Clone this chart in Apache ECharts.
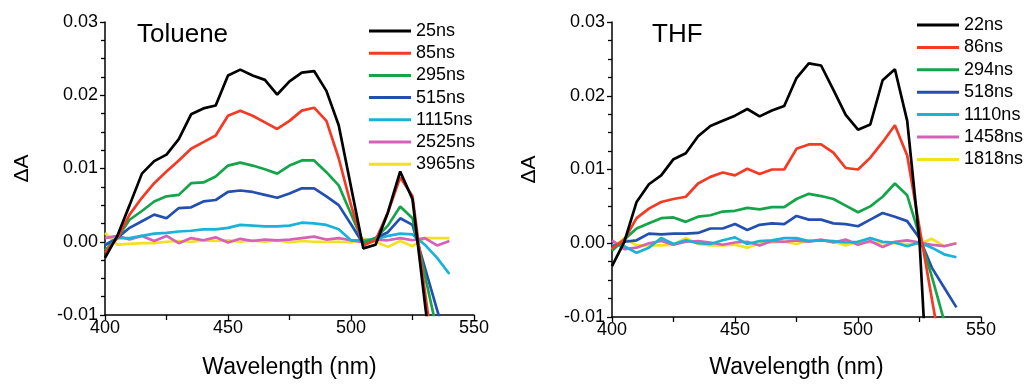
<!DOCTYPE html>
<html>
<head>
<meta charset="utf-8">
<script src="https://cdn.jsdelivr.net/npm/echarts@6/dist/echarts.min.js"></script>
<style>
html,body{margin:0;padding:0;background:#fff;}
#chart{width:1026px;height:384px;}
</style>
</head>
<body>
<div id="chart"></div>
<script>
// ---------- data ----------
const wavelengths = [400,405,410,415,420,425,430,435,440,445,450,455,460,465,470,475,480,485,490,495,500,505,510,515,520,525,530,535,540];

const toluenePanelTitle = 'Toluene';
const thfPanelTitle = 'THF';
const tolueneNames = ['25ns','85ns','295ns','515ns','1115ns','2525ns','3965ns'];
const thfNames = ['22ns','86ns','294ns','518ns','1110ns','1458ns','1818ns'];

const tol25 = [-0.0022,0.0008,0.005,0.0093,0.011,0.0119,0.014,0.0174,0.0182,0.0186,0.0227,0.0235,0.0227,0.0221,0.0201,0.0219,0.0231,0.0233,0.0206,0.0159,0.0075,-0.0009,-0.0004,0.004,0.0096,0.0058,-0.0083,-0.022,-0.036];
const tol85 = [-0.0015,0.0005,0.0037,0.006,0.008,0.0096,0.0111,0.0127,0.0136,0.0145,0.0172,0.0179,0.0172,0.0163,0.0154,0.0165,0.0179,0.0183,0.0165,0.0114,0.005,-0.0005,0.0002,0.004,0.0088,0.0062,-0.0067,-0.019,-0.03];
const tol295 = [-0.0012,0.0005,0.003,0.0042,0.0055,0.0062,0.0064,0.008,0.0081,0.0089,0.0104,0.0108,0.0104,0.0099,0.0093,0.0104,0.0111,0.0111,0.0095,0.0077,0.0038,-0.0001,0.0005,0.0022,0.0048,0.0032,-0.0045,-0.0122,-0.02];
const tol515 = [-0.0005,0.0005,0.0019,0.0028,0.0037,0.0032,0.0046,0.0047,0.0055,0.0057,0.0068,0.007,0.0068,0.0064,0.006,0.0066,0.0073,0.0073,0.0062,0.005,0.0024,-0.0003,0.0005,0.0013,0.0032,0.0023,-0.0035,-0.0093,-0.015];
const tol1115 = [-0.0004,0.0005,0.0005,0.0008,0.0011,0.0012,0.0014,0.0015,0.0017,0.0017,0.0019,0.0023,0.0022,0.0021,0.0021,0.0022,0.0026,0.0025,0.0023,0.0017,0.0002,0.0002,0.0004,0.0008,0.0011,0.001,-0.0004,-0.0022,-0.0044];
const tol2525 = [0.0005,0.0008,0.0003,0.0008,0.0001,0.0008,-0.0002,0.0005,0.0002,0.0006,-0.0001,0.0004,0.0001,0.0003,0.0002,0.0003,0.0005,0.0007,0.0003,0.0005,0.0002,-0.0001,0.0003,0.0002,0.0005,0.0002,0.0005,-0.0005,0.0001];
const tol3965 = [0.0012,-0.0004,-0.0003,-0.0002,-0.0002,0.0,0.0001,0.0,0.0002,0.0001,0.0002,0.0,0.0002,0.0,0.0002,-0.0001,0.0001,0.0,0.0,0.0,-0.0001,0.0004,0.0,-0.0007,0.0001,-0.0006,0.0005,0.0005,0.0005];

const thf22 = [-0.0031,0.0002,0.0056,0.008,0.0092,0.0114,0.0122,0.0145,0.0159,0.0166,0.0173,0.0182,0.0172,0.018,0.0186,0.0224,0.0244,0.0241,0.0208,0.0174,0.0154,0.0161,0.0221,0.0236,0.0166,0.0003,-0.03,-0.05,-0.06];
const thf86 = [-0.0007,0.0005,0.0034,0.0047,0.0056,0.006,0.0063,0.0081,0.009,0.0096,0.0092,0.0101,0.0094,0.01,0.01,0.0128,0.0134,0.0134,0.0123,0.0102,0.01,0.0116,0.0137,0.016,0.0119,0.0021,-0.0075,-0.017,-0.027];
const thf294 = [-0.001,0.0005,0.002,0.0027,0.0034,0.0035,0.0029,0.0036,0.0038,0.0043,0.0044,0.0048,0.0046,0.0049,0.0049,0.006,0.0067,0.0064,0.006,0.0051,0.0042,0.005,0.0063,0.0081,0.0065,0.001,-0.0045,-0.0105,-0.016];
const thf518 = [-0.0005,0.0002,0.0004,0.0013,0.0012,0.0013,0.0013,0.0014,0.002,0.002,0.0026,0.0018,0.0025,0.0027,0.0026,0.0037,0.0032,0.0032,0.0027,0.0026,0.0023,0.0032,0.0041,0.0036,0.003,0.0007,-0.0033,-0.006,-0.0087];
const thf1110 = [-0.0002,-0.0004,-0.0013,-0.0006,0.0007,-0.0001,0.0004,0.0,-0.0001,0.0004,0.0008,-0.0001,0.0003,0.0004,0.0007,0.0007,0.0003,0.0004,0.0003,0.0001,0.0002,0.0007,0.0002,0.0001,-0.0004,0.0001,-0.0006,-0.0015,-0.0019];
const thf1458 = [0.0004,-0.0008,-0.0006,0.0,0.0003,-0.0002,0.0002,0.0003,0.0001,-0.0002,0.0001,0.0002,-0.0003,0.0003,0.0002,0.0004,0.0002,0.0005,0.0001,0.0005,-0.0002,0.0003,-0.0005,0.0002,0.0004,0.0001,-0.0002,-0.0004,0.0];
const thf1818 = [-0.0008,0.0007,-0.0003,-0.0003,-0.0003,-0.0002,0.0007,-0.0001,-0.0003,-0.0003,-0.0002,-0.0006,0.0,0.0001,0.0002,-0.0001,0.0004,0.0004,0.0002,-0.0003,0.0002,0.0001,0.0,0.0,-0.0001,-0.0001,0.0006,-0.0004,0.0];

const xTicks = [400,450,500,550];
const yTicks = [-0.01,0.0,0.01,0.02,0.03];

const colors = ['#000000','#f43a24','#14a54a','#2350b0','#1ab2d8','#d860b8','#f0e21c'];

const tolSeriesData = [tol25,tol85,tol295,tol515,tol1115,tol2525,tol3965];
const thfSeriesData = [thf22,thf86,thf294,thf518,thf1110,thf1458,thf1818];

// ---------- chart ----------
const FONT = '"Liberation Sans", Arial, Helvetica, sans-serif';
const chart = echarts.init(document.getElementById('chart'));

function pairs(vals){ return wavelengths.map((w,i)=>[w, vals[i]]); }

function xAxisFor(gi, gap){
  return {
    gridIndex: gi, type:'value', min: xTicks[0], max: xTicks[xTicks.length-1], interval: 50,
    name:'Wavelength (nm)', nameLocation:'middle', nameGap: gap,
    nameTextStyle:{fontFamily:FONT, fontSize:23, color:'#000'},
    axisLine:{show:true, onZero:false, lineStyle:{color:'#000', width:1.5}},
    axisTick:{show:true, inside:false, length:5, lineStyle:{color:'#000', width:1.3}},
    minorTick:{show:true, splitNumber:2, length:5, lineStyle:{color:'#000', width:1.3}},
    axisLabel:{fontFamily:FONT, fontSize:18, color:'#000', margin:4},
    splitLine:{show:false}
  };
}
function yAxisFor(gi){
  return {
    gridIndex: gi, type:'value', min: yTicks[0], max: yTicks[yTicks.length-1], interval: 0.01,
    name:'ΔA', nameLocation:'middle', nameGap: 72, nameRotate: 90,
    nameTextStyle:{fontFamily:FONT, fontSize:21, color:'#000'},
    axisLine:{show:true, onZero:false, lineStyle:{color:'#000', width:1.5}},
    axisTick:{show:true, inside:false, length:5, lineStyle:{color:'#000', width:1.3}},
    minorTick:{show:true, splitNumber:4, length:4, lineStyle:{color:'#000', width:1.3}},
    axisLabel:{fontFamily:FONT, fontSize:18, color:'#000', margin:7,
      formatter: v => v.toFixed(2)},
    splitLine:{show:false}
  };
}

const series = [];
tolueneNames.forEach((n,i)=>{
  series.push({name:n, type:'line', xAxisIndex:0, yAxisIndex:0, data:pairs(tolSeriesData[i]),
    symbol:'none', clip:true, lineStyle:{width:2.7, color:colors[i]}, itemStyle:{color:colors[i]},
    z: 10 - i});
});
thfNames.forEach((n,i)=>{
  series.push({name:n, type:'line', xAxisIndex:1, yAxisIndex:1, data:pairs(thfSeriesData[i]),
    symbol:'none', clip:true, lineStyle:{width:2.7, color:colors[i]}, itemStyle:{color:colors[i]},
    z: 10 - i});
});

function legendFor(names, left, top, gap){
  return {
    data: names, orient:'vertical', left:left, top:top, padding:0,
    icon:'rect', itemWidth:42, itemHeight:3, itemGap:gap, selectedMode:false,
    textStyle:{fontFamily:FONT, fontSize:18, color:'#000', lineHeight:18, padding:[0,0,0,0]}
  };
}

chart.setOption({
  backgroundColor:'#ffffff',
  animation:false,
  title:[
    {text: toluenePanelTitle, left:137, top:22, padding:0,
     textStyle:{fontFamily:FONT, fontSize:26, fontWeight:'normal', color:'#000'}},
    {text: thfPanelTitle, left:652, top:22, padding:0,
     textStyle:{fontFamily:FONT, fontSize:26, fontWeight:'normal', color:'#000'}}
  ],
  legend:[
    legendFor(tolueneNames, 369, 22, 4.2),
    legendFor(thfNames, 917, 16, 4.4)
  ],
  grid:[
    {left:105, right:552, top:22, bottom:66, containLabel:false},
    {left:612, right:45, top:22, bottom:64, containLabel:false}
  ],
  xAxis:[xAxisFor(0, 41), xAxisFor(1, 39)],
  yAxis:[yAxisFor(0), yAxisFor(1)],
  series: series
});
</script>
</body>
</html>
